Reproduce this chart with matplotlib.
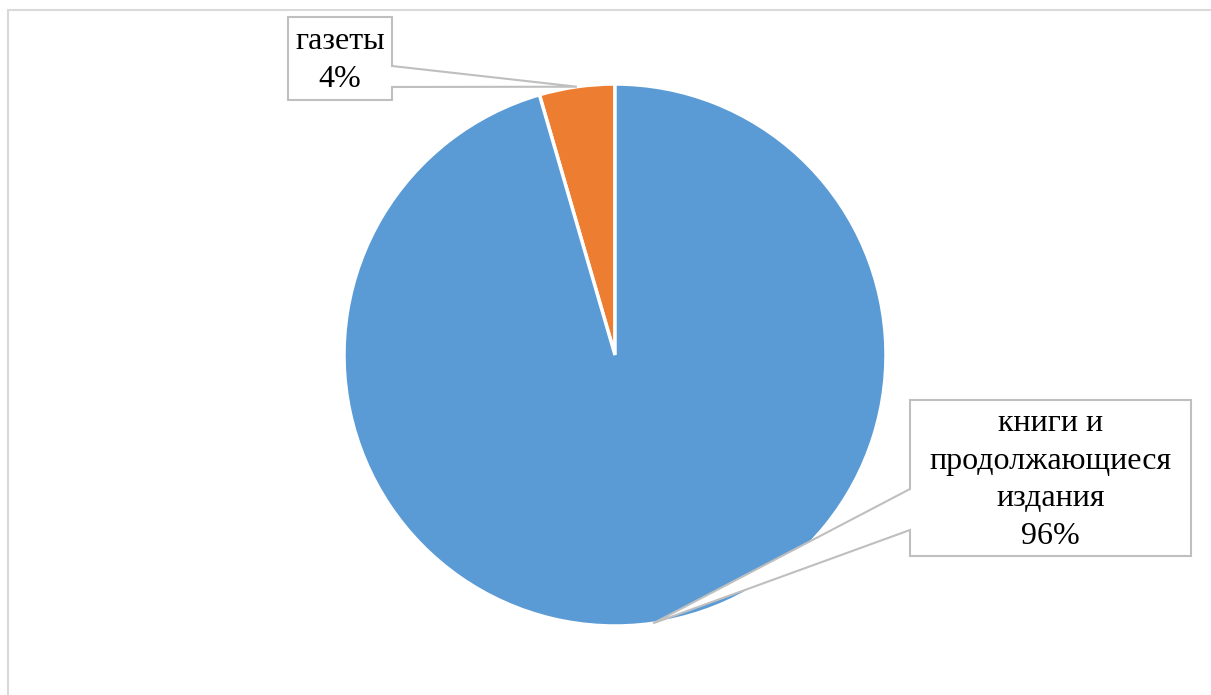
import numpy as np
import matplotlib.pyplot as plt
from matplotlib.patches import Polygon

# shares of holdings, %
categories = ["газеты", "книги и\nпродолжающиеся\nиздания"]
values = [4.5, 95.5]
pct_labels = ["4%", "96%"]
colors = ["#ED7D31", "#5B9BD5"]

W, H = 1211, 695
plt.rcParams["font.family"] = ["Liberation Serif", "DejaVu Serif"]

fig = plt.figure(figsize=(W / 100, H / 100), dpi=100)

# overlay in pixel coordinates (y down) for frame and callouts
over = fig.add_axes([0, 0, 1, 1])
over.set_xlim(0, W)
over.set_ylim(H, 0)
over.axis("off")
over.plot([8, W], [10, 10], color="#d9d9d9", lw=1.5)
over.plot([8, 8], [10, H], color="#d9d9d9", lw=1.5)

# pie
cx, cy, r = 615, 355, 271
ax = fig.add_axes([(cx - r) / W, (H - cy - r) / H, 2 * r / W, 2 * r / H])
wedges, _ = ax.pie(values, colors=colors, startangle=90, counterclock=True,
                   wedgeprops=dict(edgecolor="white", linewidth=2.5))
ax.set_xlim(-1, 1)
ax.set_ylim(-1, 1)
ax.set_zorder(1)
over.set_zorder(2)
over.patch.set_alpha(0)


def tip_point(w):
    ang = np.deg2rad((w.theta1 + w.theta2) / 2)
    disp = ax.transData.transform((np.cos(ang), np.sin(ang)))
    return over.transData.inverted().transform(disp)


# callout boxes: (x0, y0, x1, y1), side, attach y range
boxes = [
    ((288, 17, 392, 100), "right", (66, 87)),
    ((910, 400, 1191, 556), "left", (489, 530)),
]

fig.canvas.draw()
for w, name, pct, (bx, side, (a1, a2)) in zip(wedges, categories, pct_labels, boxes):
    x0, y0, x1, y1 = bx
    tx, ty = tip_point(w)
    if side == "right":
        pts = [(x0, y0), (x1, y0), (x1, a1), (tx, ty), (x1, a2), (x1, y1), (x0, y1)]
    else:
        pts = [(x0, y0), (x1, y0), (x1, y1), (x0, y1), (x0, a2), (tx, ty), (x0, a1)]
    over.add_patch(Polygon(pts, closed=True, facecolor="white",
                           edgecolor="#bfbfbf", lw=1.5))
    over.text((x0 + x1) / 2, (y0 + y1) / 2 + 2, name + "\n" + pct,
              ha="center", va="center", fontsize=23, linespacing=1.4,
              color="black")

fig.savefig("out.png", dpi=100)
